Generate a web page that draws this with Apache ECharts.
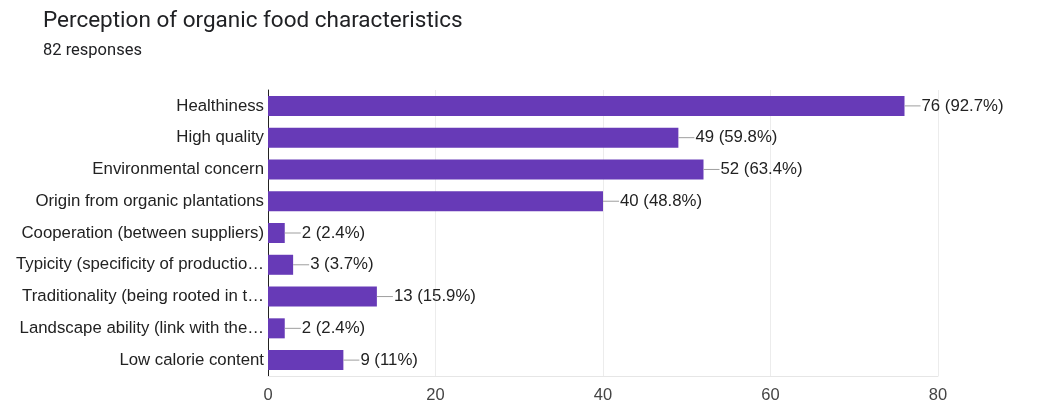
<!DOCTYPE html>
<html>
<head>
<meta charset="utf-8">
<script src="https://cdn.jsdelivr.net/npm/echarts@6/dist/echarts.min.js"></script>
<style>
  html, body { margin: 0; padding: 0; background: #fff; }
  #chart { width: 1050px; height: 405px; }
</style>
</head>
<body>
<div id="chart"></div>
<script>
// Answer options, top to bottom
const categories = [
  'Healthiness',
  'High quality',
  'Environmental concern',
  'Origin from organic plantations',
  'Cooperation (between suppliers)',
  'Typicity (specificity of productio\u2026',
  'Traditionality (being rooted in t\u2026',
  'Landscape ability (link with the\u2026',
  'Low calorie content'
];
// Number of respondents choosing each option
const counts = [76, 49, 52, 40, 2, 3, 13, 2, 9];
// Share of the 82 respondents, as shown next to each bar
const percents = ['92.7%', '59.8%', '63.4%', '48.8%', '2.4%', '3.7%', '15.9%', '2.4%', '11%'];
const totalResponses = 82;
const xTicks = [0, 20, 40, 60, 80];

const chart = echarts.init(document.getElementById('chart'));
const font = '"Liberation Sans", Arial, sans-serif';
const titleFont = 'Roboto, sans-serif';

chart.setOption({
  animation: false,
  title: [
    {
      text: 'Perception of organic food characteristics',
      left: 38, top: 5,
      padding: 5,
      textStyle: { fontFamily: titleFont, fontSize: 22.5, fontWeight: 'normal', color: '#202124' }
    },
    {
      text: totalResponses + ' responses',
      left: 38, top: 37,
      padding: 5,
      textStyle: { fontFamily: titleFont, fontSize: 16.5, fontWeight: 'normal', color: '#202124' }
    }
  ],
  grid: { left: 268, right: 112, top: 90, bottom: 29, containLabel: false },
  xAxis: {
    type: 'value',
    min: xTicks[0],
    max: xTicks[xTicks.length - 1],
    interval: 20,
    axisLine: { show: true, lineStyle: { color: '#e6e6e6' } },
    axisTick: { show: false },
    splitLine: { show: true, lineStyle: { color: '#ececec' } },
    axisLabel: { fontFamily: font, fontSize: 16.5, color: '#444', margin: 11 }
  },
  yAxis: {
    type: 'category',
    inverse: true,
    data: categories,
    axisLine: { show: true, lineStyle: { color: '#222', width: 1 } },
    axisTick: { show: false },
    axisLabel: { fontFamily: font, fontSize: 16.8, color: '#222', margin: 4 }
  },
  series: [{
    type: 'bar',
    data: counts,
    barCategoryGap: '37%',
    itemStyle: { color: '#673ab7' },
    label: {
      show: true,
      position: 'right',
      distance: 0,
      formatter: p => '{ln|}{t|' + p.value + ' (' + percents[p.dataIndex] + ')}',
      rich: {
        ln: { width: 16, height: 1, backgroundColor: '#9e9e9e' },
        t: { fontFamily: font, fontSize: 16.8, color: '#222', padding: [0, 0, 0, 1] }
      }
    }
  }]
});
</script>
</body>
</html>
